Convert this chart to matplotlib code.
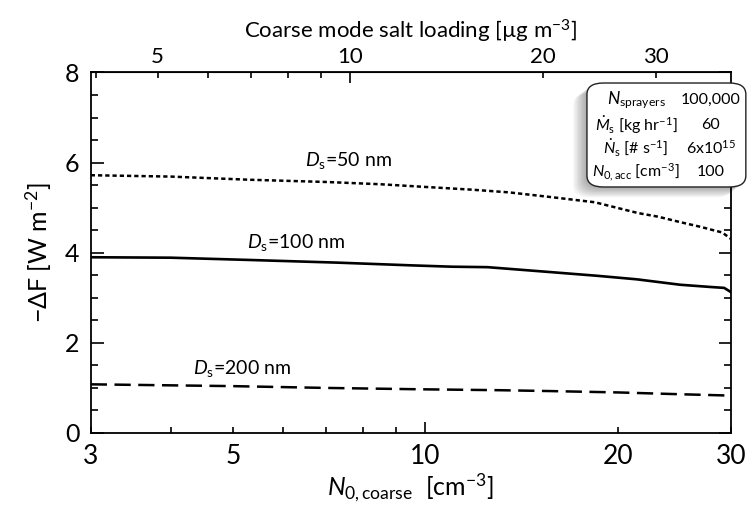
import matplotlib
matplotlib.use("Agg")
import matplotlib.pyplot as plt
from matplotlib.patches import FancyBboxPatch

plt.rcParams['font.family'] = ['Lato', 'DejaVu Sans']
plt.rcParams['mathtext.fontset'] = 'custom'
plt.rcParams['mathtext.rm'] = 'Lato'
plt.rcParams['mathtext.it'] = 'Lato:italic'
plt.rcParams['mathtext.bf'] = 'Lato:bold'

# Data
n50 = [3, 4, 5.3, 7, 8.5, 10, 11.8, 13.5, 15.6, 18.4, 21.5, 23.1, 25, 27, 28, 29.1, 30]
f50 = [5.72, 5.69, 5.62, 5.57, 5.52, 5.46, 5.40, 5.34, 5.24, 5.12, 4.88, 4.80, 4.68, 4.57, 4.51, 4.45, 4.31]
n100 = [3, 4, 5.3, 7.3, 9.5, 11, 12.5, 15.7, 18.5, 21.4, 25, 27.9, 29.3, 30]
f100 = [3.90, 3.89, 3.84, 3.78, 3.72, 3.69, 3.68, 3.57, 3.49, 3.41, 3.29, 3.24, 3.22, 3.13]
n200 = [3, 5, 7, 9.8, 13, 15.7, 20, 25, 30]
f200 = [1.08, 1.04, 1.00, 0.97, 0.95, 0.93, 0.90, 0.86, 0.83]

salt_per_n = 1.31  # top axis: ug m-3 per cm-3

bottom_minor = [3, 4, 5, 6, 7, 8, 9, 20, 30]
bottom_minor_labels = ['3', '', '5', '', '', '', '', '20', '30']
top_minor = [4, 5, 6, 7, 8, 9, 20, 30]
top_minor_labels = ['', '5', '', '', '', '', '20', '30']

table_left = [r'$\mathit{N}_{\mathrm{sprayers}}$',
              r'$\dot{\mathit{M}}_{\mathrm{s}}$ [kg hr$^{\mathrm{-1}}$]',
              r'$\dot{\mathit{N}}_{\mathrm{s}}$ [# s$^{\mathrm{-1}}$]',
              r'$\mathit{N}_{\mathrm{0,acc}}$ [cm$^{\mathrm{-3}}$]']
table_right = ['100,000', '60', r'6x10$^{\mathrm{15}}$', '100']

fig = plt.figure(figsize=(7.53, 5.14), dpi=100)
ax = fig.add_axes([0.1205, 0.1576, 0.8499, 0.7014])

ax.plot(n50, f50, color='black', lw=1.8, linestyle=(0, (1.7, 1.2)))
ax.plot(n100, f100, color='black', lw=1.9, linestyle='-')
ax.plot(n200, f200, color='black', lw=1.8, linestyle=(0, (6.5, 3)))

ax.set_xscale('log')
ax.set_xlim(3, 30)
ax.set_ylim(0, 8)

ax.set_xticks([10], labels=['10'])
ax.set_xticks(bottom_minor, labels=bottom_minor_labels, minor=True)
ax.set_yticks([0, 2, 4, 6, 8])
ax.set_yticks([i * 0.5 for i in range(17)], minor=True)
ax.tick_params(which='both', direction='in', top=False, right=True, width=1.2)
ax.tick_params(axis='x', which='both', labelsize=19, pad=8)
ax.tick_params(axis='x', which='major', length=8)
ax.tick_params(axis='x', which='minor', length=4.5)
ax.tick_params(axis='y', which='major', length=9, labelsize=18, pad=8)
ax.tick_params(axis='y', which='minor', length=5)
for s in ax.spines.values():
    s.set_linewidth(1.3)

ax.set_xlabel(r'$\mathit{N}_{\mathrm{0,coarse}}$  [cm$^{\mathrm{-3}}$]', fontsize=18, labelpad=2)
ax.set_ylabel('−ΔF [W m$^{\\mathrm{-2}}$]', fontsize=18, labelpad=8)

top = ax.secondary_xaxis('top', functions=(lambda x: x * salt_per_n, lambda x: x / salt_per_n))
top.set_xticks([10], labels=['10'])
top.set_xticks(top_minor, labels=top_minor_labels, minor=True)
top.tick_params(which='both', direction='in', labelsize=16, width=1.2, pad=4)
top.tick_params(which='major', length=8)
top.tick_params(which='minor', length=4.5)
top.set_xlabel('Coarse mode salt loading [µg m$^{\\mathrm{-3}}$]', fontsize=16, labelpad=6)

# curve labels
ax.text(6.49, 6.04, r'$\mathit{D}_{\mathrm{s}}$=50 nm', fontsize=14, va='center')
ax.text(5.27, 4.22, r'$\mathit{D}_{\mathrm{s}}$=100 nm', fontsize=14, va='center')
ax.text(4.34, 1.44, r'$\mathit{D}_{\mathrm{s}}$=200 nm', fontsize=14, va='center')

# inset table with soft shadow
bx, by, bw, bh = 0.7795, 0.6362, 0.211, 0.2023
for i in range(8):
    off = 0.0025 * (8 - i)
    sh = FancyBboxPatch((bx - off * 0.9, by - off), bw, bh,
                        boxstyle='round,pad=0,rounding_size=0.022',
                        transform=fig.transFigure, facecolor='black',
                        edgecolor='none', alpha=0.045, zorder=5)
    fig.patches.append(sh)
box = FancyBboxPatch((bx, by), bw, bh, boxstyle='round,pad=0,rounding_size=0.022',
                     transform=fig.transFigure, facecolor='white',
                     edgecolor='#222222', lw=1.0, zorder=6)
fig.patches.append(box)

row_y = [100, 125, 148, 172]
left_sizes = [12.5, 11.5, 11.5, 11.5]
for txt, val, yy, fs in zip(table_left, table_right, row_y, left_sizes):
    fig.text(636 / 753, 1 - yy / 514, txt, fontsize=fs, ha='center', va='center', zorder=7)
    fig.text(711 / 753, 1 - yy / 514, val, fontsize=11.5, ha='center', va='center', zorder=7)

fig.savefig('out.png', dpi=100)
